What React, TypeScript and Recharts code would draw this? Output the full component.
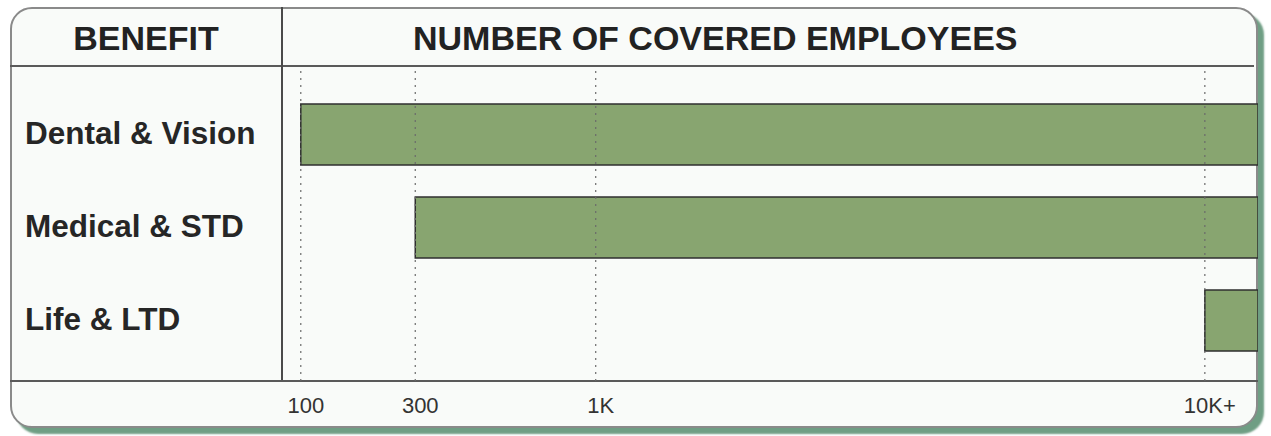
import { BarChart, Bar, XAxis, YAxis, ReferenceLine } from 'recharts';

const benefits = ['Dental & Vision', 'Medical & STD', 'Life & LTD'];
const minEmployees = [100, 300, 10000];
const openEnd = 11500; // "10K+" bars run off the right edge
const axisMin = 80;
const tickValues = [100, 300, 1000, 10000];
const tickLabels = ['100', '300', '1K', '10K+'];

// the axis in the original is compressed, roughly a power scale
const EXP = 0.315;
const toAxis = (v: number) => Math.pow(v, EXP);

const data = benefits.map((name, i) => ({
  name,
  range: [toAxis(minEmployees[i]), toAxis(openEnd)],
}));

const FONT = '"Liberation Sans", Arial, Helvetica, sans-serif';

function BenefitTick(props: any) {
  const { y, payload } = props;
  return (
    <text
      x={25}
      y={y}
      dy={-2}
      dominantBaseline="central"
      textAnchor="start"
      fontFamily={FONT}
      fontWeight={700}
      fontSize={31.5}
      fill="#262626"
    >
      {payload.value}
    </text>
  );
}

function CountTick(props: any) {
  const { x, y, payload } = props;
  const idx = tickValues.map(toAxis).findIndex((t) => Math.abs(t - payload.value) < 1e-6);
  return (
    <text x={x + 5} y={y} dy="0.71em" textAnchor="middle" fontFamily={FONT} fontSize={22} fill="#333">
      {tickLabels[idx] ?? ''}
    </text>
  );
}

export default function App() {
  return (
    <div style={{ position: 'absolute', left: 0, top: 0, width: 1271, height: 436, background: '#ffffff' }}>
      {/* frame */}
      <div
        style={{
          position: 'absolute',
          left: 10,
          top: 7,
          width: 1248,
          height: 421,
          boxSizing: 'border-box',
          border: '2px solid #8a8a8a',
          borderRadius: 22,
          background: '#f9fbf9',
          boxShadow: '6px 6px 2px #6f9e84',
        }}
      />
      <div style={{ position: 'absolute', left: 10, top: 65, width: 1244, height: 2, background: '#5a5a5a' }} />
      <div style={{ position: 'absolute', left: 281, top: 7, width: 2, height: 375, background: '#4a4a4a' }} />
      <div style={{ position: 'absolute', left: 10, top: 380, width: 1248, height: 2, background: '#5a5a5a' }} />
      <div
        style={{
          position: 'absolute',
          left: 10,
          top: 18,
          width: 272,
          textAlign: 'center',
          fontFamily: FONT,
          fontWeight: 700,
          fontSize: 34,
          lineHeight: '40px',
          color: '#222',
        }}
      >
        BENEFIT
      </div>
      <div
        style={{
          position: 'absolute',
          left: 413,
          top: 18,
          fontFamily: FONT,
          fontWeight: 700,
          fontSize: 34,
          lineHeight: '40px',
          color: '#222',
          whiteSpace: 'nowrap',
        }}
      >
        NUMBER OF COVERED EMPLOYEES
      </div>

      <div style={{ position: 'absolute', left: 0, top: 0 }}>
        <BarChart
          width={1271}
          height={436}
          data={data}
          layout="vertical"
          margin={{ top: 66, right: 13, left: 0, bottom: 0 }}
        >
          <XAxis
            type="number"
            domain={[toAxis(axisMin), toAxis(openEnd)]}
            allowDataOverflow
            ticks={tickValues.map(toAxis)}
            interval={0}
            axisLine={false}
            tickLine={false}
            tickSize={0}
            tickMargin={16}
            height={55}
            tick={<CountTick />}
          />
          <YAxis
            type="category"
            dataKey="name"
            width={282}
            axisLine={false}
            tickLine={false}
            padding={{ top: 22, bottom: 14 }}
            tick={<BenefitTick />}
          />
          <Bar
            dataKey="range"
            barSize={61}
            fill="#88a570"
            stroke="#2f2f2f"
            strokeWidth={1.5}
            isAnimationActive={false}
          />
          {tickValues.map((v) => (
            <ReferenceLine
              key={v}
              x={toAxis(v)}
              stroke="#6a6a6a"
              strokeDasharray="2 5"
              strokeWidth={1.2}
            />
          ))}
        </BarChart>
      </div>
    </div>
  );
}
